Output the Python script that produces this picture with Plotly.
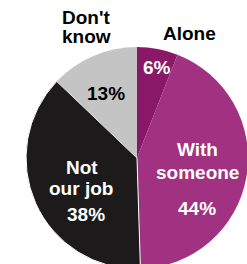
import plotly.graph_objects as go

categories = ["Alone", "With someone", "Not our job", "Don't know"]
values = [6, 44, 38, 13]
colors = ["#8a1868", "#a13181", "#1c1a1b", "#c4c4c4"]

W, H = 250, 272
cx, cy, r = 137, 158, 111

fig = go.Figure(go.Pie(
    labels=categories, values=values, sort=False, direction="clockwise",
    rotation=0, textinfo="none", hoverinfo="none",
    marker=dict(colors=colors, line=dict(color="white", width=[0, 0, 1, 0])),
    domain=dict(x=[(cx - r) / W, (cx + r) / W], y=[1 - (cy + r) / H, 1 - (cy - r) / H]),
    showlegend=False,
))

font = "Liberation Sans, Arial, Helvetica, sans-serif"
labels = [
    ("Don't", 86, 17, "black"),
    ("know", 86, 37, "black"),
    ("Alone", 189, 33, "black"),
    ("6%", 157, 67, "white"),
    ("13%", 106, 93, "black"),
    ("Not", 82, 167, "white"),
    ("our job", 81, 188, "white"),
    ("38%", 86, 214, "white"),
    ("With", 197, 149, "white"),
    ("someone", 197, 172, "white"),
    ("44%", 197, 208, "white"),
]
for t, x, y, c in labels:
    fig.add_annotation(text="<b>%s</b>" % t, x=x / W, y=1 - y / H, xref="paper", yref="paper",
                       xanchor="center", yanchor="middle", showarrow=False,
                       font=dict(family=font, size=19, color=c))

fig.update_layout(width=W, height=H, margin=dict(l=0, r=0, t=0, b=0),
                  paper_bgcolor="white", plot_bgcolor="white")

fig.write_html("out.html", config={"displayModeBar": False},
               post_script="document.body.style.margin='0';document.body.style.overflow='hidden';document.documentElement.style.overflow='hidden';")
